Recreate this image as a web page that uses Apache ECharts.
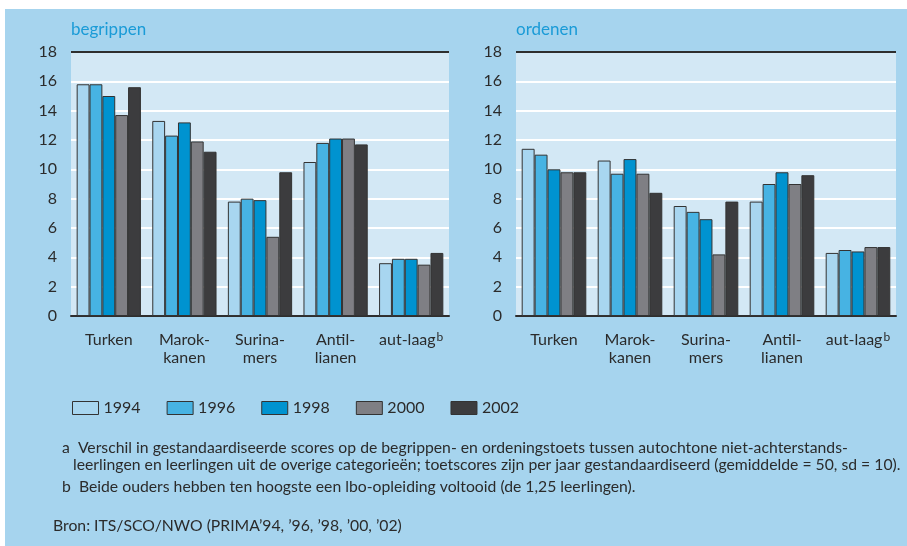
<!DOCTYPE html>
<html><head><meta charset="utf-8">
<script src="https://cdn.jsdelivr.net/npm/echarts@6/dist/echarts.min.js"></script>
<style>html,body{margin:0;padding:0;background:#fff}#c{width:907px;height:546px}</style>
</head><body><div id="c"></div>
<script>
const categories = ['Turken', 'Marok-\nkanen', 'Surina-\nmers', 'Antil-\nlianen', 'aut-laag'];
const years = ['1994', '1996', '1998', '2000', '2002'];
const yTicks = [0, 2, 4, 6, 8, 10, 12, 14, 16, 18];
// begrippen: per year, values for categories
const begrippen1994 = [15.8, 13.3, 7.8, 10.5, 3.6];
const begrippen1996 = [15.8, 12.3, 8.0, 11.8, 3.9];
const begrippen1998 = [15.0, 13.2, 7.9, 12.1, 3.9];
const begrippen2000 = [13.7, 11.9, 5.4, 12.1, 3.5];
const begrippen2002 = [15.6, 11.2, 9.8, 11.7, 4.3];
// ordenen
const ordenen1994 = [11.4, 10.6, 7.5, 7.8, 4.3];
const ordenen1996 = [11.0, 9.7, 7.1, 9.0, 4.5];
const ordenen1998 = [10.0, 10.7, 6.6, 9.8, 4.4];
const ordenen2000 = [9.8, 9.7, 4.2, 9.0, 4.7];
const ordenen2002 = [9.8, 8.4, 7.8, 9.6, 4.7];

const colors = ['#a8d6f0', '#47b3e3', '#0093d0', '#7f7f84', '#3c3c3e'];
const begr = [begrippen1994, begrippen1996, begrippen1998, begrippen2000, begrippen2002];
const orde = [ordenen1994, ordenen1996, ordenen1998, ordenen2000, ordenen2002];
const FONT = 'Lato';

const chart = echarts.init(document.getElementById('c'));

function xAxis(gi) {
  return {
    type: 'category', gridIndex: gi, data: categories,
    axisLine: { lineStyle: { color: '#2e2e2e', width: 2 } },
    axisTick: { alignWithLabel: true, length: 8, lineStyle: { color: '#2e2e2e', width: 1.5 } },
    axisLabel: {
      interval: 0, margin: 15, color: '#2b2b2b', fontFamily: FONT, fontSize: 16, lineHeight: 18,
      formatter: v => v === 'aut-laag' ? v + '{sup|b}' : v,
      rich: { sup: { fontSize: 12, fontFamily: FONT, color: '#2b2b2b', verticalAlign: 'top', padding: [0, 0, 8, 1] } }
    }
  };
}
function yAxis(gi) {
  const lineColors = yTicks.map((t, i) => i === yTicks.length - 1 ? '#2e2e2e' : '#ffffff');
  return {
    type: 'value', gridIndex: gi, min: 0, max: 18, interval: 2,
    axisLine: { show: false }, axisTick: { show: false },
    axisLabel: { margin: 14, color: '#2b2b2b', fontFamily: FONT, fontSize: 16 },
    splitLine: { lineStyle: { color: lineColors, width: 2 } }
  };
}
const series = [];
years.forEach((y, i) => {
  [begr, orde].forEach((set, gi) => {
    series.push({
      name: y, type: 'bar', xAxisIndex: gi, yAxisIndex: gi, data: set[i],
      barGap: '0%', barCategoryGap: '15%',
      itemStyle: { color: colors[i], borderColor: '#333', borderWidth: 1 },
      animation: false
    });
  });
});

const footStyle = { fill: '#2b2b2b', fontFamily: 'Liberation Sans Narrow, Lato', fontSize: 15 };
const SX = 1.05;
chart.setOption({
  backgroundColor: '#ffffff',
  animation: false,
  grid: [
    { left: 71, right: 458, top: 52, bottom: 230, show: true, backgroundColor: '#d3e8f5', borderWidth: 0 },
    { left: 516, right: 11, top: 52, bottom: 230, show: true, backgroundColor: '#d3e8f5', borderWidth: 0 }
  ],
  graphic: [
    { type: 'rect', z: -10, shape: { x: 5, y: 9, width: 902, height: 537 }, style: { fill: '#a6d4ee' } },
    { type: 'text', left: 71, top: 21, style: { text: 'begrippen', fill: '#1a9bd7', font: '17px Lato' } },
    { type: 'text', left: 516, top: 21, style: { text: 'ordenen', fill: '#1a9bd7', font: '17px Lato' } },
    { type: 'text', x: 62, y: 441, scaleX: SX, style: Object.assign({ text: 'a  Verschil in gestandaardiseerde scores op de begrippen- en ordeningstoets tussen autochtone niet-achterstands-' }, footStyle) },
    { type: 'text', x: 73, y: 458, scaleX: SX, style: Object.assign({ text: 'leerlingen en leerlingen uit de overige categorieën; toetscores zijn per jaar gestandaardiseerd (gemiddelde = 50, sd = 10).' }, footStyle) },
    { type: 'text', x: 62, y: 480, scaleX: SX, style: Object.assign({ text: 'b  Beide ouders hebben ten hoogste een lbo-opleiding voltooid (de 1,25 leerlingen).' }, footStyle) },
    { type: 'text', x: 53, y: 519, scaleX: SX, style: Object.assign({ text: 'Bron: ITS/SCO/NWO (PRIMA’94, ’96, ’98, ’00, ’02)' }, footStyle) }
  ],
  legend: {
    left: 72, top: 400, padding: 0, itemWidth: 26, itemHeight: 13, itemGap: 26,
    icon: 'rect', data: years,
    textStyle: { color: '#2b2b2b', fontFamily: FONT, fontSize: 16 },
    itemStyle: { borderColor: '#333', borderWidth: 1 }
  },
  xAxis: [xAxis(0), xAxis(1)],
  yAxis: [yAxis(0), yAxis(1)],
  series: series
});
</script></body></html>
